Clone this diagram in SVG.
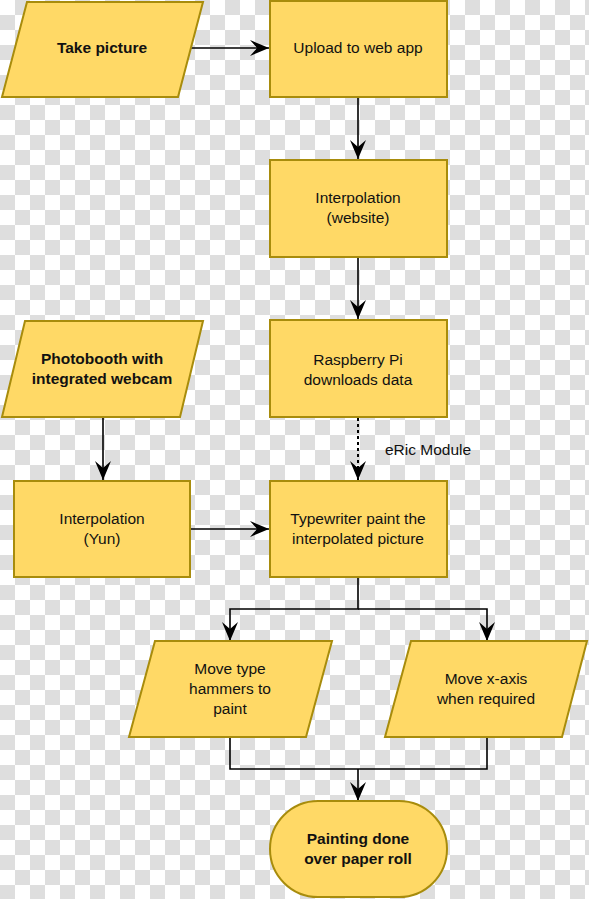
<svg xmlns="http://www.w3.org/2000/svg" width="589" height="899" viewBox="0 0 589 899">
<style>
.n{fill:#FFD966;stroke:#A88C0C;stroke-width:2}
.t{font-family:"Liberation Sans",Arial,sans-serif;font-size:15.5px;fill:#111;text-anchor:middle}
.b{font-weight:bold}
.c{fill:none;stroke:#000;stroke-width:1.6}
.d{stroke-dasharray:3,3;stroke-width:2}
</style>
<defs>
<pattern id="chk" width="30" height="30" patternUnits="userSpaceOnUse">
<rect width="30" height="30" fill="#ffffff"/>
<rect x="15" y="0" width="15" height="15" fill="#dedede"/>
<rect x="0" y="15" width="15" height="15" fill="#dedede"/>
</pattern>
<marker id="ar" markerWidth="20" markerHeight="16" refX="19" refY="8" orient="auto" markerUnits="userSpaceOnUse">
<path d="M0,0 L19,8 L0,16 L7,8 Z" fill="#000"/>
</marker>
</defs>
<rect width="589" height="899" fill="url(#chk)"/>
<g id="connectors">
<path class="c" d="M190,48 H269" marker-end="url(#ar)"/>
<path class="c" d="M358,97 V159" marker-end="url(#ar)"/>
<path class="c" d="M358,257 V319" marker-end="url(#ar)"/>
<path class="c d" d="M358,418 V480" marker-end="url(#ar)"/>
<path class="c" d="M103,417 V480" marker-end="url(#ar)"/>
<path class="c" d="M190,529 H269" marker-end="url(#ar)"/>
<path class="c" d="M358,577 V609 H230 V641" marker-end="url(#ar)"/>
<path class="c" d="M358,609 H487 V641" marker-end="url(#ar)"/>
<path class="c" d="M230,737 V769 H487 V737"/>
<path class="c" d="M358,769 V801" marker-end="url(#ar)"/>
<text class="t" x="428" y="455">eRic Module</text>
</g>
<g id="take-picture">
<polygon class="n" points="27,2 203,2 178,97 2,97"/>
<text class="t b" x="102" y="53">Take picture</text>
</g>
<g id="upload">
<rect class="n" x="270" y="1" width="177" height="96"/>
<text class="t" x="358" y="53">Upload to web app</text>
</g>
<g id="interp-website">
<rect class="n" x="270" y="160" width="177" height="97"/>
<text class="t" x="358" y="203">Interpolation</text>
<text class="t" x="358" y="223">(website)</text>
</g>
<g id="raspberry">
<rect class="n" x="270" y="320" width="177" height="97"/>
<text class="t" x="358" y="365">Raspberry Pi</text>
<text class="t" x="358" y="385">downloads data</text>
</g>
<g id="photobooth">
<polygon class="n" points="25,321 203,321 180,417 2,417"/>
<text class="t b" x="102" y="364">Photobooth with</text>
<text class="t b" x="102" y="384">integrated webcam</text>
</g>
<g id="interp-yun">
<rect class="n" x="14" y="481" width="176" height="96"/>
<text class="t" x="102" y="524">Interpolation</text>
<text class="t" x="102" y="544">(Yun)</text>
</g>
<g id="typewriter">
<rect class="n" x="270" y="481" width="177" height="96"/>
<text class="t" x="358" y="524">Typewriter paint the</text>
<text class="t" x="358" y="544">interpolated picture</text>
</g>
<g id="move-hammers">
<polygon class="n" points="155,641 332,641 306,737 129,737"/>
<text class="t" x="230" y="674">Move type</text>
<text class="t" x="230" y="694">hammers to</text>
<text class="t" x="230" y="714">paint</text>
</g>
<g id="move-xaxis">
<polygon class="n" points="411,641 587,641 562,737 385,737"/>
<text class="t" x="486" y="684">Move x-axis</text>
<text class="t" x="486" y="704">when required</text>
</g>
<g id="painting-done">
<rect class="n" x="270" y="801" width="177" height="96" rx="48" ry="48"/>
<text class="t b" x="358" y="844">Painting done</text>
<text class="t b" x="358" y="864">over paper roll</text>
</g>
</svg>
